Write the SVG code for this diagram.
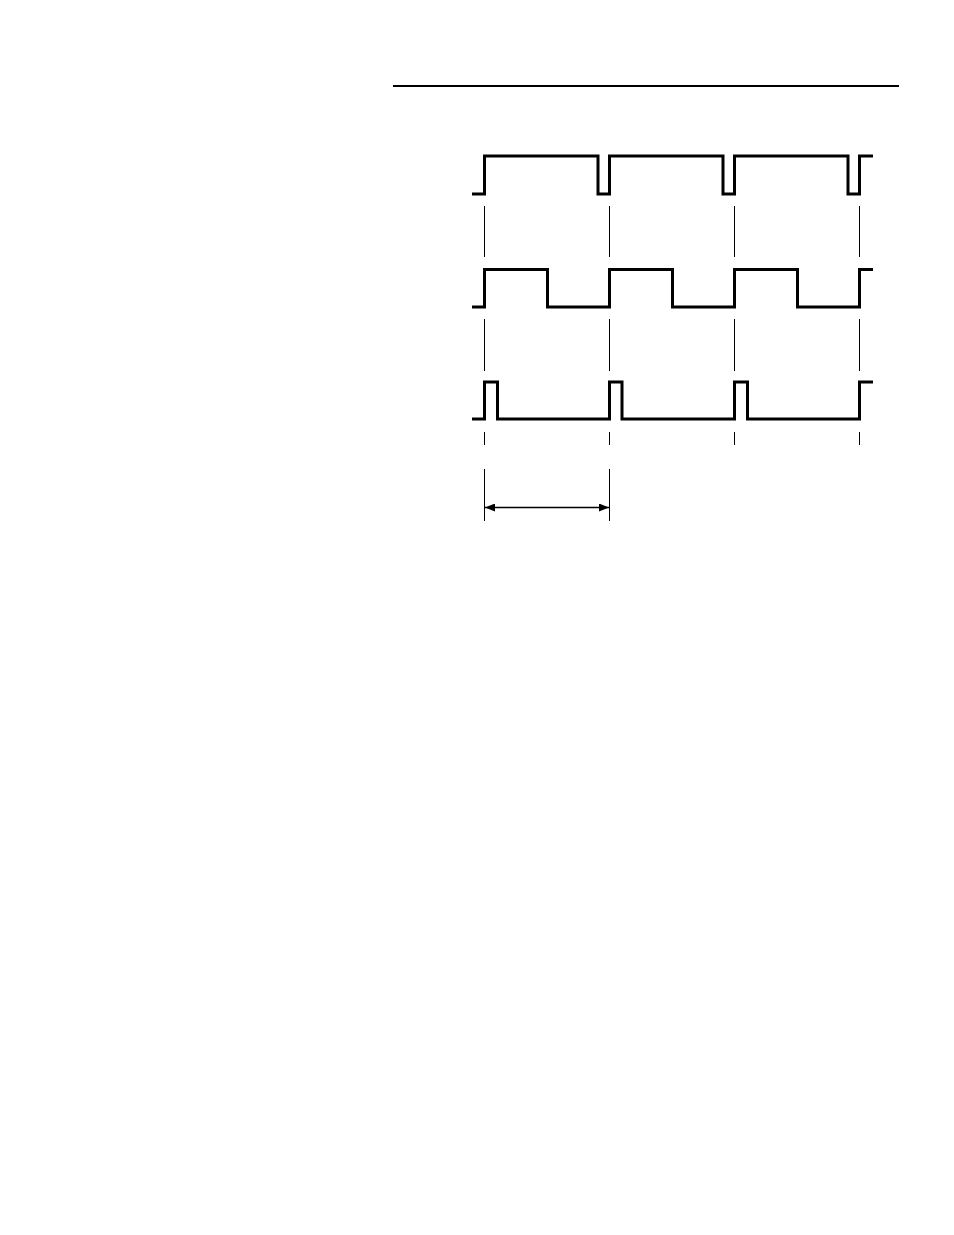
<svg xmlns="http://www.w3.org/2000/svg" width="954" height="1235" viewBox="0 0 954 1235">
<style>
.wave{fill:none;stroke:#000;stroke-width:3;stroke-linejoin:miter;stroke-linecap:butt}
.guide{stroke:#000;stroke-width:1;fill:none}
.rule{stroke:#000;stroke-width:2.2}
</style>
<defs>
<marker id="ah" viewBox="0 0 10 8" refX="10" refY="4" markerWidth="10" markerHeight="8" markerUnits="userSpaceOnUse" orient="auto-start-reverse">
<path d="M0,0 L10,4 L0,8 Z" fill="#000"/>
</marker>
</defs>
<rect width="954" height="1235" fill="#fff"/>
<line class="rule" x1="393" y1="86" x2="899" y2="86"/>
<g id="wave1">
<path class="wave" d="M472,194 H484.5 V156 H598 V194 H609.5 V156 H723 V194 H734.5 V156 H848 V194 H859.5 V156 H873"/>
</g>
<g id="wave2">
<path class="wave" d="M472,307 H484.5 V269.5 H547.5 V307 H609.5 V269.5 H672.5 V307 H734.5 V269.5 H797.5 V307 H859.5 V269.5 H873"/>
</g>
<g id="wave3">
<path class="wave" d="M472,419 H484.5 V382 H497.5 V419 H609.5 V382 H622 V419 H734.5 V382 H747.5 V419 H859.5 V382 H873"/>
</g>
<g id="connectors">
<g class="guide">
<line x1="484.5" y1="206" x2="484.5" y2="257"/>
<line x1="609.5" y1="206" x2="609.5" y2="257"/>
<line x1="734.5" y1="206" x2="734.5" y2="257"/>
<line x1="859.5" y1="206" x2="859.5" y2="257"/>
<line x1="484.5" y1="319" x2="484.5" y2="371"/>
<line x1="609.5" y1="319" x2="609.5" y2="371"/>
<line x1="734.5" y1="319" x2="734.5" y2="371"/>
<line x1="859.5" y1="319" x2="859.5" y2="371"/>
<line x1="484.5" y1="432" x2="484.5" y2="445"/>
<line x1="609.5" y1="432" x2="609.5" y2="445"/>
<line x1="734.5" y1="432" x2="734.5" y2="445"/>
<line x1="859.5" y1="432" x2="859.5" y2="445"/>
<line x1="484.5" y1="469" x2="484.5" y2="521"/>
<line x1="609.5" y1="469" x2="609.5" y2="521"/>
</g>
<line x1="485" y1="507.5" x2="609" y2="507.5" stroke="#000" stroke-width="1.3" marker-start="url(#ah)" marker-end="url(#ah)"/>
</g>
</svg>
